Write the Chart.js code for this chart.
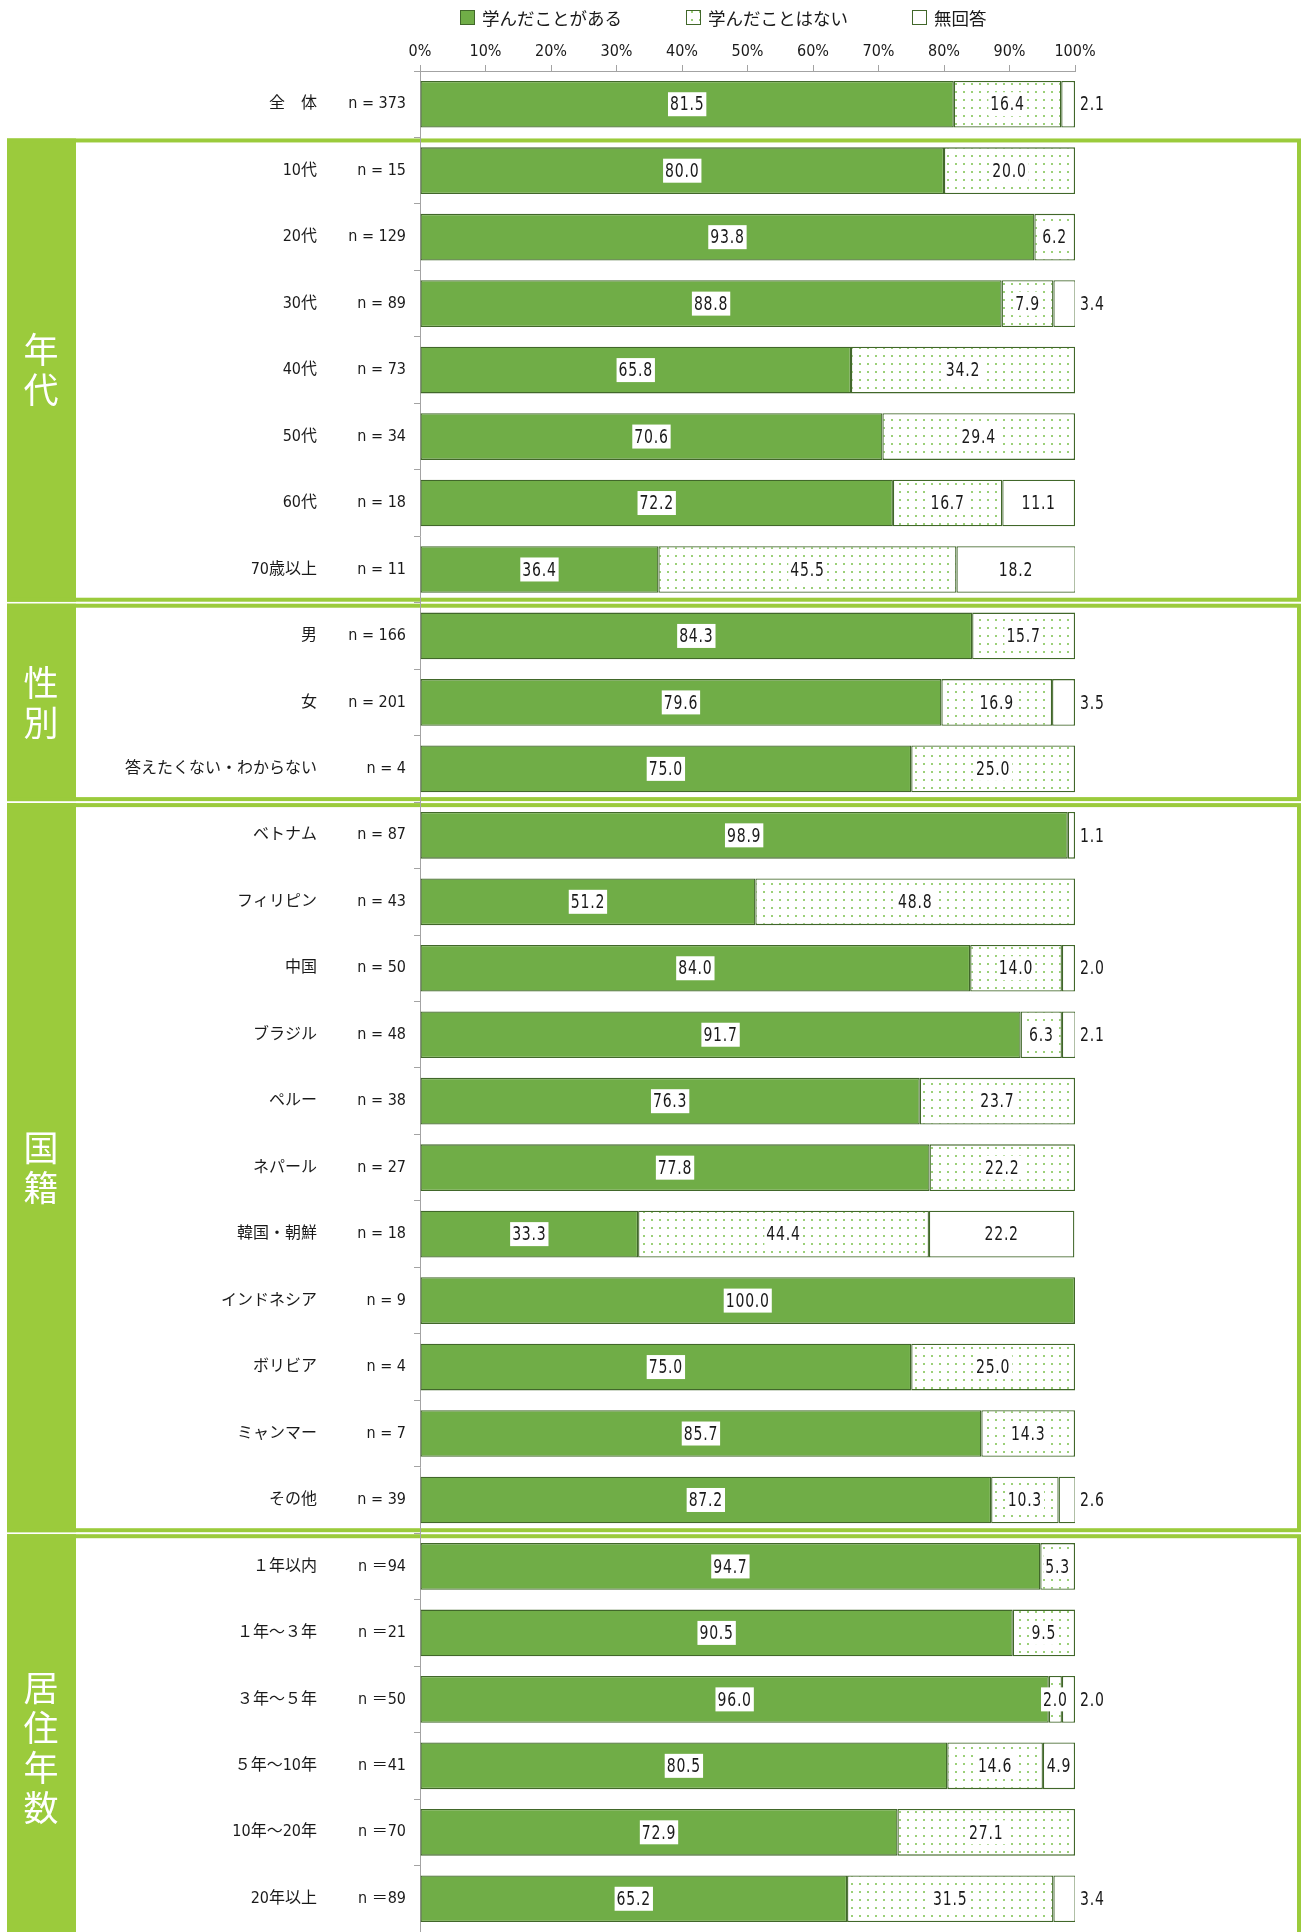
<!DOCTYPE html>
<html lang="ja">
<head>
<meta charset="utf-8">
<title>学んだことの有無</title>
<script src="https://cdn.jsdelivr.net/npm/chart.js@4.4.1/dist/chart.umd.min.js"></script>
<style>
  html, body { margin: 0; padding: 0; background: #fff; }
</style>
</head>
<body>
<canvas id="chart" width="1303" height="1932"></canvas>
<script>
const names = [
  '全　体',
  '10代', '20代', '30代', '40代', '50代', '60代', '70歳以上',
  '男', '女', '答えたくない・わからない',
  'ベトナム', 'フィリピン', '中国', 'ブラジル', 'ペルー', 'ネパール', '韓国・朝鮮', 'インドネシア', 'ボリビア', 'ミャンマー', 'その他',
  '１年以内', '１年～３年', '３年～５年', '５年～10年', '10年～20年', '20年以上'
];
const counts = [
  'n = 373',
  'n = 15', 'n = 129', 'n = 89', 'n = 73', 'n = 34', 'n = 18', 'n = 11',
  'n = 166', 'n = 201', 'n = 4',
  'n = 87', 'n = 43', 'n = 50', 'n = 48', 'n = 38', 'n = 27', 'n = 18', 'n = 9', 'n = 4', 'n = 7', 'n = 39',
  'n ＝94', 'n ＝21', 'n ＝50', 'n ＝41', 'n ＝70', 'n ＝89'
];
const learned = [
  81.5,
  80.0, 93.8, 88.8, 65.8, 70.6, 72.2, 36.4,
  84.3, 79.6, 75.0,
  98.9, 51.2, 84.0, 91.7, 76.3, 77.8, 33.3, 100.0, 75.0, 85.7, 87.2,
  94.7, 90.5, 96.0, 80.5, 72.9, 65.2
];
const notLearned = [
  16.4,
  20.0, 6.2, 7.9, 34.2, 29.4, 16.7, 45.5,
  15.7, 16.9, 25.0,
  1.1, 48.8, 14.0, 6.3, 23.7, 22.2, 44.4, null, 25.0, 14.3, 10.3,
  5.3, 9.5, 2.0, 14.6, 27.1, 31.5
];
const noAnswer = [
  2.1,
  null, null, 3.4, null, null, 11.1, 18.2,
  null, 3.5, null,
  null, null, 2.0, 2.1, null, null, 22.2, null, null, null, 2.6,
  null, null, 2.0, 4.9, null, 3.4
];
const groupNames = ['年代', '性別', '国籍', '居住年数'];
const groupSizes = [7, 3, 11, 6];   // rows in each group, after the 全体 row
const xTicks = [0, 10, 20, 30, 40, 50, 60, 70, 80, 90, 100];

const GREEN = '#70AD47';
const EDGE = '#41672A';
const BAND = '#9BCB3C';
const AXIS = '#A3A3A3';
const INK = '#1a1a1a';
const NARROW = '"Liberation Sans Narrow", "DejaVu Sans Condensed", "Noto Sans CJK JP", sans-serif';
const JP = '"Noto Sans CJK JP", sans-serif';

const canvas = document.getElementById('chart');
const ctx = canvas.getContext('2d');

// light green dot screen for the 学んだことはない segments
function dotPattern() {
  const c = document.createElement('canvas');
  c.width = 8; c.height = 8;
  const g = c.getContext('2d');
  g.fillStyle = '#fff';
  g.fillRect(0, 0, 8, 8);
  g.fillStyle = '#9BD078';
  g.fillRect(3, 3, 2, 2);
  return ctx.createPattern(c, 'repeat');
}

// green framed bands with the vertical group titles
const groupBands = {
  id: 'groupBands',
  beforeDraw(chart) {
    const c = chart.ctx;
    const y = chart.scales.y;
    const step = y.getPixelForValue(1) - y.getPixelForValue(0);
    let start = 1;
    c.save();
    groupNames.forEach((name, i) => {
      const end = start + groupSizes[i] - 1;
      const top = y.getPixelForValue(start) - step / 2 + 1;
      // the last band runs off the bottom edge
      const bottom = end === names.length - 1
        ? chart.height + 30
        : y.getPixelForValue(end) + step / 2 - 1;
      c.fillStyle = BAND;
      c.fillRect(7, top, 69, bottom - top);
      c.strokeStyle = BAND;
      c.lineWidth = 4;
      c.strokeRect(9, top + 2, 1290, bottom - top - 4);

      const chars = [...name];
      const cy = (top + bottom) / 2;
      c.fillStyle = '#fff';
      c.font = '35px ' + JP;
      c.textAlign = 'center';
      c.textBaseline = 'middle';
      chars.forEach((ch, k) => {
        c.fillText(ch, 41, cy + (k - (chars.length - 1) / 2) * 40);
      });
      start = end + 1;
    });
    c.restore();
  }
};

// value labels on white chips; a small closing segment gets its label past the bar end
const valueLabels = {
  id: 'valueLabels',
  afterDatasetsDraw(chart) {
    const c = chart.ctx;
    const area = chart.chartArea;
    const sets = chart.data.datasets;
    const squeeze = 0.78;
    c.save();
    c.font = '20px ' + NARROW;
    c.letterSpacing = '1px';
    c.textAlign = 'center';
    c.textBaseline = 'middle';
    sets.forEach((ds, di) => {
      chart.getDatasetMeta(di).data.forEach((bar, i) => {
        const v = ds.data[i];
        if (v == null) return;
        const text = v.toFixed(1);
        const w = c.measureText(text).width * squeeze;
        const last = !sets.slice(di + 1).some(d => d.data[i] != null);
        const cx = (last && v < 4) ? area.right + 5 + w / 2 : (bar.x + bar.base) / 2;
        c.fillStyle = '#fff';
        c.fillRect(cx - w / 2 - 2, bar.y - 12, w + 4, 24);
        c.save();
        c.translate(cx, bar.y + 1);
        c.scale(squeeze, 1);
        c.fillStyle = INK;
        c.fillText(text, 0, 0);
        c.restore();
      });
    });
    c.restore();
  }
};

// legend row above the percent axis
const legendRow = {
  id: 'legendRow',
  afterDraw(chart) {
    const c = chart.ctx;
    const y = 17;
    let x = chart.chartArea.left + 40;
    c.save();
    c.font = '17.5px ' + JP;
    c.textBaseline = 'middle';
    chart.data.datasets.forEach(ds => {
      c.fillStyle = ds.backgroundColor;
      c.fillRect(x, y - 7, 15, 15);
      c.strokeStyle = EDGE;
      c.lineWidth = 1;
      c.strokeRect(x + 0.5, y - 6.5, 14, 14);
      c.fillStyle = INK;
      c.fillText(ds.label, x + 22, y + 1);
      x += 22 + c.measureText(ds.label).width + 64;
    });
    c.restore();
  }
};

const barStyle = {
  borderColor: EDGE,
  borderWidth: 1.3,
  borderSkipped: false,
  barPercentage: 0.78,
  categoryPercentage: 0.9
};

new Chart(ctx, {
  type: 'bar',
  data: {
    labels: counts,
    datasets: [
      { label: '学んだことがある', data: learned, backgroundColor: GREEN, ...barStyle },
      { label: '学んだことはない', data: notLearned, backgroundColor: dotPattern(), ...barStyle },
      { label: '無回答', data: noAnswer, backgroundColor: '#fff', ...barStyle }
    ]
  },
  options: {
    indexAxis: 'y',
    responsive: false,
    animation: false,
    layout: { padding: { left: 0, right: 228, top: 0, bottom: 0 } },
    plugins: {
      legend: { display: false },
      tooltip: { enabled: false }
    },
    scales: {
      x: {
        position: 'top',
        stacked: true,
        min: 0,
        max: 100,
        afterBuildTicks: s => { s.ticks = xTicks.map(v => ({ value: v })); },
        afterFit: s => { s.height = 71; },
        ticks: {
          callback: v => v + '%',
          font: { family: NARROW, size: 16 },
          color: INK,
          padding: 4,
          maxRotation: 0
        },
        grid: { drawOnChartArea: false, tickLength: 6, color: AXIS },
        border: { color: AXIS }
      },
      y: {
        stacked: true,
        afterFit: s => { s.width = 90; s.paddingTop = 0; s.paddingBottom = 0; },
        ticks: {
          font: { family: NARROW, size: 16 },
          color: INK,
          padding: 8,
          autoSkip: false
        },
        grid: { drawOnChartArea: false, tickLength: 6, color: AXIS },
        border: { color: AXIS }
      },
      yName: {
        axis: 'y',
        type: 'category',
        labels: names,
        position: 'left',
        weight: 10,
        offset: true,
        afterFit: s => { s.width = 330; s.paddingTop = 0; s.paddingBottom = 0; },
        ticks: {
          font: { family: NARROW, size: 16 },
          color: INK,
          padding: 13,
          autoSkip: false
        },
        grid: { display: false, drawTicks: false },
        border: { display: false }
      }
    }
  },
  plugins: [groupBands, valueLabels, legendRow]
});
</script>
</body>
</html>
